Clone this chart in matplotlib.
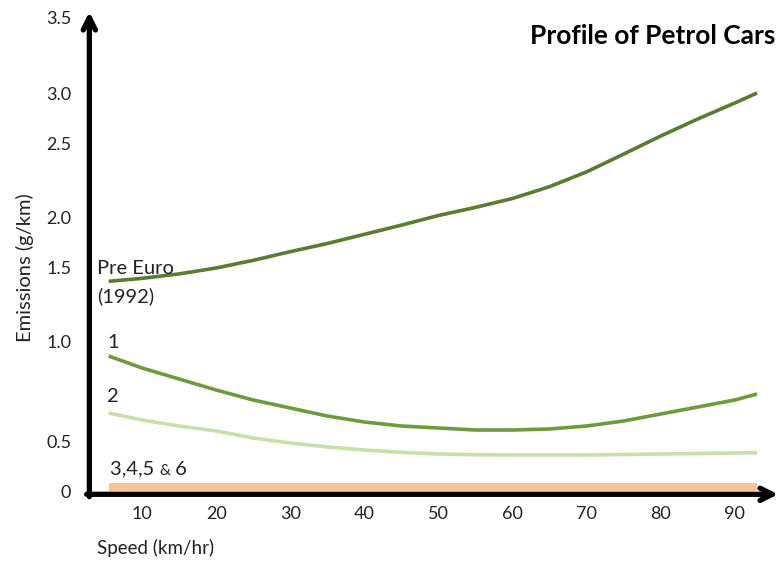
import numpy as np
import matplotlib
matplotlib.use('Agg')
import matplotlib.pyplot as plt

plt.rcParams['font.family'] = ['Lato', 'DejaVu Sans']

# speeds (km/hr)
speed = [5.5, 10, 15, 20, 25, 30, 35, 40, 45, 50, 55, 60, 65, 70, 75, 80, 85, 90, 93]

# emissions (g/km)
pre_euro = [1.41, 1.43, 1.46, 1.50, 1.575, 1.66, 1.74, 1.83, 1.92, 2.01, 2.065,
            2.125, 2.205, 2.305, 2.425, 2.57, 2.74, 2.90, 3.0]
euro1 = [0.93, 0.87, 0.815, 0.76, 0.71, 0.67, 0.63, 0.60, 0.58, 0.57, 0.56,
         0.56, 0.565, 0.58, 0.605, 0.64, 0.675, 0.71, 0.74]
euro2 = [0.645, 0.61, 0.58, 0.555, 0.52, 0.49, 0.45, 0.418, 0.395, 0.378, 0.37,
         0.367, 0.367, 0.367, 0.372, 0.378, 0.383, 0.388, 0.39]
euro3456 = [0.08] * len(speed)

xticks = [10, 20, 30, 40, 50, 60, 70, 80, 90]
yticks = [0, 0.5, 1.0, 1.5, 2.0, 2.5, 3.0, 3.5]
ytick_labels = ['0', '0.5', '1.0', '1.5', '2.0', '2.5', '3.0', '3.5']

# the original axis is not evenly spaced: map tick values to their drawn heights
scale_pos = [0, 49, 149, 223, 274, 348, 398, 473]

def fwd(v):
    return np.interp(v, yticks, scale_pos)

def inv(p):
    return np.interp(p, scale_pos, yticks)

fig = plt.figure(figsize=(7.81, 5.63), dpi=100)
ax = fig.add_axes([88/781, 72/563, 672/781, 473/563])
ax.set_yscale('function', functions=(fwd, inv))
ax.set_xlim(2.71, 93.4)
ax.set_ylim(0, 3.5)

ax.fill_between(speed, 0, euro3456, color='#f9c395', lw=0)
ax.plot(speed, pre_euro, color='#5b7a32', lw=2.6, solid_capstyle='butt')
ax.plot(speed, euro1, color='#6f9a3c', lw=2.6, solid_capstyle='butt')
ax.plot(speed, euro2, color='#c8dfa8', lw=2.6, solid_capstyle='butt')

for s in ax.spines.values():
    s.set_visible(False)

# thick arrow axes
ax.annotate('', xy=(0.002, 1.013), xytext=(0.002, -0.012), xycoords='axes fraction',
            arrowprops=dict(arrowstyle='->', lw=3.8, color='black', mutation_scale=22,
                            shrinkA=0, shrinkB=0), annotation_clip=False)
ax.annotate('', xy=(1.027, -0.007), xytext=(-0.002, -0.007), xycoords='axes fraction',
            arrowprops=dict(arrowstyle='->', lw=3.8, color='black', mutation_scale=22,
                            shrinkA=0, shrinkB=0), annotation_clip=False)

ax.set_xticks(xticks)
ax.set_xticklabels([str(t) for t in xticks])
ax.set_yticks(yticks)
ax.set_yticklabels(ytick_labels)
ax.yaxis.set_minor_locator(matplotlib.ticker.NullLocator())
ax.tick_params(axis='both', length=0, labelsize=13, colors='#222222')
ax.tick_params(axis='x', pad=11)
ax.tick_params(axis='y', pad=12)

fig.text(25/781, 1 - 268/563, 'Emissions (g/km)', rotation=90, ha='center', va='center',
         fontsize=14.5, color='#222222')
fig.text(97/781, 1 - 548/563, 'Speed (km/hr)', ha='left', va='center',
         fontsize=13.5, color='#222222')
fig.text(775/781, 1 - 36/563, 'Profile of Petrol Cars', ha='right', va='center',
         fontsize=19, fontweight='bold', color='black')

# series labels
ax.text(3.93, 1.5, 'Pre Euro', ha='left', va='center', fontsize=14.5, color='#222222')
ax.text(3.93, 1.31, '(1992)', ha='left', va='center', fontsize=14.5, color='#222222')
ax.text(5.3, 1.0, '1', ha='left', va='center', fontsize=14.5, color='#222222')
ax.text(5.3, 0.725, '2', ha='left', va='center', fontsize=14.5, color='#222222')
t = ax.text(5.7, 0.165, '3,4,5 ', ha='left', va='baseline', fontsize=14.5, color='#222222')
amp = ax.annotate('&', xy=(1, 0), xycoords=t, ha='left', va='bottom', fontsize=11,
                  color='#222222')
ax.annotate(' 6', xy=(1, 0), xycoords=amp, ha='left', va='bottom', fontsize=14.5,
            color='#222222')

fig.savefig('out.png', dpi=100)
